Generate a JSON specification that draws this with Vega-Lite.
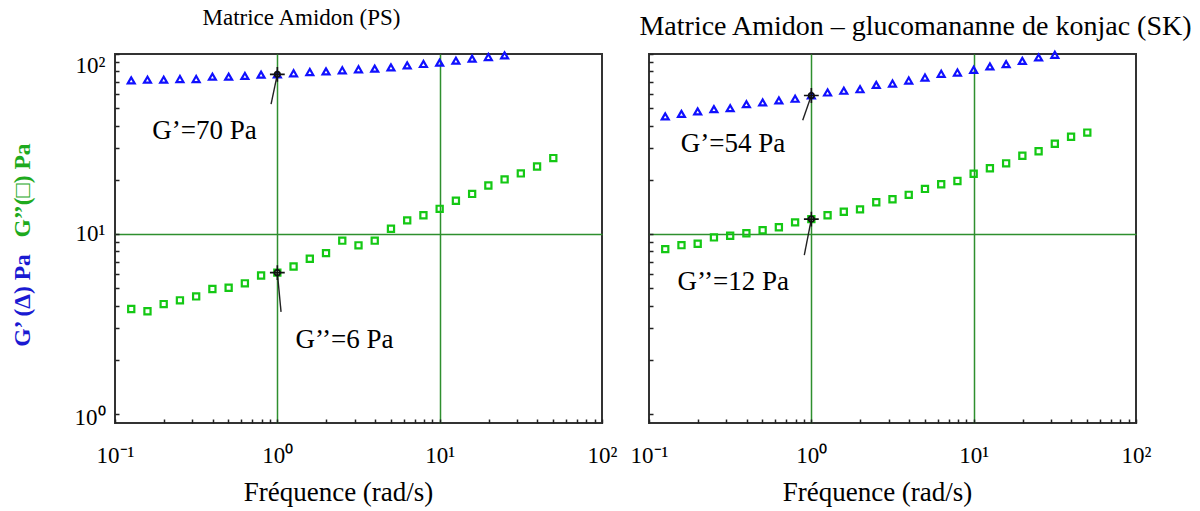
{
  "$schema": "https://vega.github.io/schema/vega-lite/v6.json",
  "background": "white",
  "padding": {"left": 9, "top": 5, "right": 5, "bottom": 5},
  "spacing": 11,
  "config": {
    "font": "Liberation Serif",
    "view": {"stroke": "#333333", "strokeWidth": 2},
    "axis": {
      "labelFont": "Liberation Serif", "titleFont": "Liberation Serif",
      "labelColor": "black", "titleColor": "black", "titleFontWeight": "normal",
      "labelFontSize": 23, "titleFontSize": 27, "domain": false,
      "tickColor": "#222222", "tickSize": -4, "tickWidth": 1.5,
      "gridColor": "#2e8f2e", "gridWidth": 1.5, "labelOverlap": false
    },
    "title": {"font": "Liberation Serif", "fontSize": 23, "fontWeight": "normal", "color": "black"}
  },
  "datasets": {
    "pts": [
      {"p": "PS", "s": "G'", "f": 0.1259, "v": 71.4}, {"p": "PS", "s": "G'", "f": 0.1585, "v": 72.0}, {"p": "PS", "s": "G'", "f": 0.1995, "v": 72.0}, {"p": "PS", "s": "G'", "f": 0.2512, "v": 72.6}, {"p": "PS", "s": "G'", "f": 0.3162, "v": 72.6}, {"p": "PS", "s": "G'", "f": 0.3981, "v": 74.8}, {"p": "PS", "s": "G'", "f": 0.5012, "v": 74.8}, {"p": "PS", "s": "G'", "f": 0.631, "v": 75.5}, {"p": "PS", "s": "G'", "f": 0.7943, "v": 76.8}, {"p": "PS", "s": "G'", "f": 1, "v": 77.1}, {"p": "PS", "s": "G'", "f": 1.259, "v": 78.1}, {"p": "PS", "s": "G'", "f": 1.585, "v": 79.4}, {"p": "PS", "s": "G'", "f": 1.995, "v": 80.1}, {"p": "PS", "s": "G'", "f": 2.512, "v": 81.2}, {"p": "PS", "s": "G'", "f": 3.162, "v": 82.2}, {"p": "PS", "s": "G'", "f": 3.981, "v": 82.9}, {"p": "PS", "s": "G'", "f": 5.012, "v": 84.3}, {"p": "PS", "s": "G'", "f": 6.31, "v": 86.5}, {"p": "PS", "s": "G'", "f": 7.943, "v": 88.0}, {"p": "PS", "s": "G'", "f": 10, "v": 89.5}, {"p": "PS", "s": "G'", "f": 12.59, "v": 91.8}, {"p": "PS", "s": "G'", "f": 15.85, "v": 94.2}, {"p": "PS", "s": "G'", "f": 19.95, "v": 96.2}, {"p": "PS", "s": "G'", "f": 25.12, "v": 98.3},
      {"p": "PS", "s": "G''", "f": 0.1259, "v": 3.83}, {"p": "PS", "s": "G''", "f": 0.1585, "v": 3.72}, {"p": "PS", "s": "G''", "f": 0.1995, "v": 4.08}, {"p": "PS", "s": "G''", "f": 0.2512, "v": 4.28}, {"p": "PS", "s": "G''", "f": 0.3162, "v": 4.5}, {"p": "PS", "s": "G''", "f": 0.3981, "v": 4.95}, {"p": "PS", "s": "G''", "f": 0.5012, "v": 5.03}, {"p": "PS", "s": "G''", "f": 0.631, "v": 5.32}, {"p": "PS", "s": "G''", "f": 0.7943, "v": 5.88}, {"p": "PS", "s": "G''", "f": 1, "v": 6.1}, {"p": "PS", "s": "G''", "f": 1.259, "v": 6.6}, {"p": "PS", "s": "G''", "f": 1.585, "v": 7.28}, {"p": "PS", "s": "G''", "f": 1.995, "v": 7.83}, {"p": "PS", "s": "G''", "f": 2.512, "v": 9.18}, {"p": "PS", "s": "G''", "f": 3.162, "v": 8.65}, {"p": "PS", "s": "G''", "f": 3.981, "v": 9.18}, {"p": "PS", "s": "G''", "f": 5.012, "v": 10.7}, {"p": "PS", "s": "G''", "f": 6.31, "v": 11.9}, {"p": "PS", "s": "G''", "f": 7.943, "v": 12.7}, {"p": "PS", "s": "G''", "f": 10, "v": 13.8}, {"p": "PS", "s": "G''", "f": 12.59, "v": 15.3}, {"p": "PS", "s": "G''", "f": 15.85, "v": 16.7}, {"p": "PS", "s": "G''", "f": 19.95, "v": 18.6}, {"p": "PS", "s": "G''", "f": 25.12, "v": 20.1}, {"p": "PS", "s": "G''", "f": 31.62, "v": 21.7}, {"p": "PS", "s": "G''", "f": 39.81, "v": 23.7}, {"p": "PS", "s": "G''", "f": 50.12, "v": 26.4},
      {"p": "SK", "s": "G'", "f": 0.1259, "v": 45}, {"p": "SK", "s": "G'", "f": 0.1585, "v": 46.5}, {"p": "SK", "s": "G'", "f": 0.1995, "v": 48}, {"p": "SK", "s": "G'", "f": 0.2512, "v": 49.4}, {"p": "SK", "s": "G'", "f": 0.3162, "v": 50}, {"p": "SK", "s": "G'", "f": 0.3981, "v": 52.6}, {"p": "SK", "s": "G'", "f": 0.5012, "v": 53.8}, {"p": "SK", "s": "G'", "f": 0.631, "v": 55.2}, {"p": "SK", "s": "G'", "f": 0.7943, "v": 56.4}, {"p": "SK", "s": "G'", "f": 1, "v": 58.8}, {"p": "SK", "s": "G'", "f": 1.259, "v": 61.1}, {"p": "SK", "s": "G'", "f": 1.585, "v": 62.5}, {"p": "SK", "s": "G'", "f": 1.995, "v": 63.7}, {"p": "SK", "s": "G'", "f": 2.512, "v": 67.4}, {"p": "SK", "s": "G'", "f": 3.162, "v": 68.5}, {"p": "SK", "s": "G'", "f": 3.981, "v": 71.2}, {"p": "SK", "s": "G'", "f": 5.012, "v": 74}, {"p": "SK", "s": "G'", "f": 6.31, "v": 77.6}, {"p": "SK", "s": "G'", "f": 7.943, "v": 78.9}, {"p": "SK", "s": "G'", "f": 10, "v": 81.7}, {"p": "SK", "s": "G'", "f": 12.59, "v": 85.3}, {"p": "SK", "s": "G'", "f": 15.85, "v": 87.8}, {"p": "SK", "s": "G'", "f": 19.95, "v": 91.6}, {"p": "SK", "s": "G'", "f": 25.12, "v": 95.7}, {"p": "SK", "s": "G'", "f": 31.62, "v": 99},
      {"p": "SK", "s": "G''", "f": 0.1259, "v": 8.24}, {"p": "SK", "s": "G''", "f": 0.1585, "v": 8.67}, {"p": "SK", "s": "G''", "f": 0.1995, "v": 8.83}, {"p": "SK", "s": "G''", "f": 0.2512, "v": 9.57}, {"p": "SK", "s": "G''", "f": 0.3162, "v": 9.78}, {"p": "SK", "s": "G''", "f": 0.3981, "v": 10.1}, {"p": "SK", "s": "G''", "f": 0.5012, "v": 10.5}, {"p": "SK", "s": "G''", "f": 0.631, "v": 10.9}, {"p": "SK", "s": "G''", "f": 0.7943, "v": 11.6}, {"p": "SK", "s": "G''", "f": 1, "v": 12.1}, {"p": "SK", "s": "G''", "f": 1.259, "v": 12.7}, {"p": "SK", "s": "G''", "f": 1.585, "v": 13.3}, {"p": "SK", "s": "G''", "f": 1.995, "v": 13.7}, {"p": "SK", "s": "G''", "f": 2.512, "v": 15.0}, {"p": "SK", "s": "G''", "f": 3.162, "v": 15.6}, {"p": "SK", "s": "G''", "f": 3.981, "v": 16.5}, {"p": "SK", "s": "G''", "f": 5.012, "v": 17.8}, {"p": "SK", "s": "G''", "f": 6.31, "v": 18.9}, {"p": "SK", "s": "G''", "f": 7.943, "v": 19.7}, {"p": "SK", "s": "G''", "f": 10, "v": 21.6}, {"p": "SK", "s": "G''", "f": 12.59, "v": 23.2}, {"p": "SK", "s": "G''", "f": 15.85, "v": 24.7}, {"p": "SK", "s": "G''", "f": 19.95, "v": 27.2}, {"p": "SK", "s": "G''", "f": 25.12, "v": 28.8}, {"p": "SK", "s": "G''", "f": 31.62, "v": 31.7}, {"p": "SK", "s": "G''", "f": 39.81, "v": 34.7}, {"p": "SK", "s": "G''", "f": 50.12, "v": 36.6}
    ],
    "lead": [
      {"p": "PS", "f": 1, "v": 77.1, "f2": 0.915, "v2": 52.6},
      {"p": "PS", "f": 1, "v": 6.1, "f2": 1.054, "v2": 3.69},
      {"p": "SK", "f": 1, "v": 58.8, "f2": 0.885, "v2": 42.9},
      {"p": "SK", "f": 1, "v": 12.1, "f2": 0.905, "v2": 7.62}
    ],
    "notes": [
      {"p": "PS", "f": 0.356, "v": 37.3, "t": "G’=70 Pa"},
      {"p": "PS", "f": 2.59, "v": 2.59, "t": "G’’=6 Pa"},
      {"p": "SK", "f": 0.329, "v": 31.6, "t": "G’=54 Pa"},
      {"p": "SK", "f": 0.33, "v": 5.41, "t": "G’’=12 Pa"}
    ]
  },
  "hconcat": [
    {
      "width": 487, "height": 369,
      "title": {"text": "Matrice Amidon (PS)", "dx": -57, "offset": 18},
      "resolve": {"scale": {"y": "independent"}},
      "layer": [
        {
          "data": {"name": "pts"},
          "transform": [{"filter": "datum.p === 'PS' && datum.s === \"G''\""}],
          "mark": {"type": "point", "shape": "square", "filled": false, "color": "#14c814", "opacity": 1, "strokeWidth": 2.2, "size": 38},
          "encoding": {
            "x": {"field": "f", "type": "quantitative", "scale": {"type": "log", "domain": [0.1, 100], "nice": false},
              "axis": {"values": [0.1,0.2,0.3,0.4,0.5,0.6,0.7,0.8,0.9,1,2,3,4,5,6,7,8,9,10,20,30,40,50,60,70,80,90,100],
                "labelExpr": "datum.value == 0.1 ? '10⁻¹' : datum.value == 1 ? '10⁰' : datum.value == 10 ? '10¹' : datum.value == 100 ? '10²' : ''",
                "labelFlush": false, "labelPadding": 25, "title": "Fréquence (rad/s)", "titlePadding": 12, "titleX": 223,
                "grid": true, "gridOpacity": {"condition": {"test": "datum.value == 1 || datum.value == 10", "value": 1}, "value": 0}}},
            "y": {"field": "v", "type": "quantitative", "scale": {"type": "log", "domain": [0.891, 100], "nice": false},
              "axis": {"orient": "left", "labels": false, "ticks": false, "grid": false, "domain": false,
                "title": "G’’(□) Pa", "titleColor": "#1eaa1e", "titleFontWeight": "bold", "titleFontSize": 23.5,
                "titleAngle": 270, "titleX": -81, "titleY": 136, "titleAlign": "center", "titleBaseline": "bottom"}}
          }
        },
        {
          "layer": [
            {
              "data": {"name": "pts"},
              "transform": [{"filter": "datum.p === 'PS' && datum.s === \"G'\""}],
              "mark": {"type": "point", "shape": "triangle-up", "filled": false, "color": "#1010ff", "opacity": 1, "strokeWidth": 2.2, "size": 48},
              "encoding": {
                "x": {"field": "f", "type": "quantitative"},
                "y": {"field": "v", "type": "quantitative", "scale": {"type": "log", "domain": [0.891, 100], "nice": false},
                  "axis": {"orient": "left", "values": [1,2,3,4,5,6,7,8,9,10,20,30,40,50,60,70,80,90,100],
                    "labelExpr": "datum.value == 1 ? '10⁰' : datum.value == 10 ? '10¹' : datum.value == 100 ? '10²' : ''",
                    "labelPadding": 14,
                    "labelBaseline": {"condition": {"test": "datum.value == 100", "value": "top"}, "value": "middle"},
                    "labelOffset": {"condition": {"test": "datum.value == 1", "value": 4}, "value": 0},
                    "grid": true, "gridOpacity": {"condition": {"test": "datum.value == 10", "value": 1}, "value": 0},
                    "title": "G’ (Δ) Pa", "titleColor": "#1a1ad2", "titleFontWeight": "bold", "titleFontSize": 23.5,
                    "titleAngle": 270, "titleX": -81, "titleY": 246, "titleAlign": "center", "titleBaseline": "bottom"}}
              }
            },
            {
              "data": {"name": "lead"},
              "transform": [{"filter": "datum.p === 'PS'"}],
              "mark": {"type": "rule", "color": "#222222", "strokeWidth": 1.4},
              "encoding": {"x": {"field": "f", "type": "quantitative"}, "y": {"field": "v", "type": "quantitative"}, "x2": {"field": "f2"}, "y2": {"field": "v2"}}
            },
            {
              "data": {"name": "lead"},
              "transform": [{"filter": "datum.p === 'PS'"}],
              "mark": {"type": "point", "shape": "M-1,0L1,0M0,-1L0,1", "filled": false, "color": "#111111", "opacity": 1, "strokeWidth": 1.6, "size": 220},
              "encoding": {"x": {"field": "f", "type": "quantitative"}, "y": {"field": "v", "type": "quantitative"}}
            },
            {
              "data": {"name": "lead"},
              "transform": [{"filter": "datum.p === 'PS'"}],
              "mark": {"type": "point", "shape": "circle", "filled": false, "color": "#111111", "opacity": 1, "strokeWidth": 1.6, "size": 30},
              "encoding": {"x": {"field": "f", "type": "quantitative"}, "y": {"field": "v", "type": "quantitative"}}
            },
            {
              "data": {"name": "notes"},
              "transform": [{"filter": "datum.p === 'PS'"}],
              "mark": {"type": "text", "font": "Liberation Serif", "fontSize": 27, "color": "black", "align": "center", "baseline": "middle"},
              "encoding": {"x": {"field": "f", "type": "quantitative"}, "y": {"field": "v", "type": "quantitative"}, "text": {"field": "t"}}
            }
          ]
        }
      ]
    },
    {
      "width": 487, "height": 369,
      "title": {"text": "Matrice Amidon – glucomananne de konjac (SK)", "fontSize": 28, "dx": 23, "offset": 6},
      "layer": [
        {
          "data": {"name": "pts"},
          "transform": [{"filter": "datum.p === 'SK' && datum.s === \"G''\""}],
          "mark": {"type": "point", "shape": "square", "filled": false, "color": "#14c814", "opacity": 1, "strokeWidth": 2.2, "size": 38},
          "encoding": {
            "x": {"field": "f", "type": "quantitative", "scale": {"type": "log", "domain": [0.1, 100], "nice": false},
              "axis": {"values": [0.1,0.2,0.3,0.4,0.5,0.6,0.7,0.8,0.9,1,2,3,4,5,6,7,8,9,10,20,30,40,50,60,70,80,90,100],
                "labelExpr": "datum.value == 0.1 ? '10⁻¹' : datum.value == 1 ? '10⁰' : datum.value == 10 ? '10¹' : datum.value == 100 ? '10²' : ''",
                "labelFlush": false, "labelPadding": 25, "title": "Fréquence (rad/s)", "titlePadding": 12, "titleX": 228,
                "grid": true, "gridOpacity": {"condition": {"test": "datum.value == 1 || datum.value == 10", "value": 1}, "value": 0}}},
            "y": {"field": "v", "type": "quantitative", "scale": {"type": "log", "domain": [0.891, 100], "nice": false},
              "axis": {"orient": "left", "values": [1,2,3,4,5,6,7,8,9,10,20,30,40,50,60,70,80,90,100],
                "labels": false, "title": null,
                "grid": true, "gridOpacity": {"condition": {"test": "datum.value == 10", "value": 1}, "value": 0}}}
          }
        },
        {
          "data": {"name": "pts"},
          "transform": [{"filter": "datum.p === 'SK' && datum.s === \"G'\""}],
          "mark": {"type": "point", "shape": "triangle-up", "filled": false, "color": "#1010ff", "opacity": 1, "strokeWidth": 2.2, "size": 48},
          "encoding": {"x": {"field": "f", "type": "quantitative"}, "y": {"field": "v", "type": "quantitative"}}
        },
        {
          "data": {"name": "lead"},
          "transform": [{"filter": "datum.p === 'SK'"}],
          "mark": {"type": "rule", "color": "#222222", "strokeWidth": 1.4},
          "encoding": {"x": {"field": "f", "type": "quantitative"}, "y": {"field": "v", "type": "quantitative"}, "x2": {"field": "f2"}, "y2": {"field": "v2"}}
        },
        {
          "data": {"name": "lead"},
          "transform": [{"filter": "datum.p === 'SK'"}],
          "mark": {"type": "point", "shape": "M-1,0L1,0M0,-1L0,1", "filled": false, "color": "#111111", "opacity": 1, "strokeWidth": 1.6, "size": 220},
          "encoding": {"x": {"field": "f", "type": "quantitative"}, "y": {"field": "v", "type": "quantitative"}}
        },
        {
          "data": {"name": "lead"},
          "transform": [{"filter": "datum.p === 'SK'"}],
          "mark": {"type": "point", "shape": "circle", "filled": false, "color": "#111111", "opacity": 1, "strokeWidth": 1.6, "size": 30},
          "encoding": {"x": {"field": "f", "type": "quantitative"}, "y": {"field": "v", "type": "quantitative"}}
        },
        {
          "data": {"name": "notes"},
          "transform": [{"filter": "datum.p === 'SK'"}],
          "mark": {"type": "text", "font": "Liberation Serif", "fontSize": 27, "color": "black", "align": "center", "baseline": "middle"},
          "encoding": {"x": {"field": "f", "type": "quantitative"}, "y": {"field": "v", "type": "quantitative"}, "text": {"field": "t"}}
        }
      ]
    }
  ]
}
